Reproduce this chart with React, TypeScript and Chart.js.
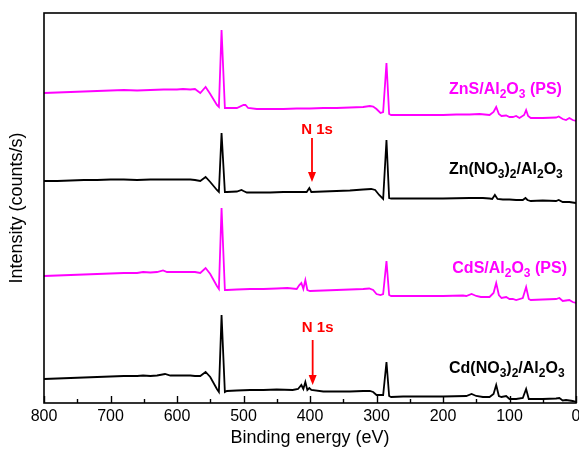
import React, { useEffect, useRef } from 'react';
import { Chart, registerables } from 'chart.js';
Chart.register(...registerables);

const FONT = "'Liberation Sans', Arial, sans-serif";
const MAGENTA = '#ff00ff';

// Binding energy ticks (eV)
const xTickValues = [800, 700, 600, 500, 400, 300, 200, 100, 0];

// ZnS/Al2O3 (PS)
const znsE = [800, 780, 760, 740, 720, 700, 680, 660, 640, 620, 600, 591, 580, 573, 565, 557, 550, 540, 537, 533, 528, 525, 510, 500, 497, 493, 480, 460, 440, 420, 400, 380, 360, 340, 320, 310, 305, 300, 294, 290, 285, 281, 278, 260, 240, 220, 200, 180, 160, 145, 130, 124, 120, 116, 112, 105, 100, 95, 90, 85, 78, 75, 72, 68, 50, 30, 26, 20, 15, 10, 5, 0];
const znsI = [310, 310.5, 311, 311.5, 312, 312.5, 313, 312.5, 313, 313.5, 313.5, 314, 313.5, 314, 310, 316, 309, 298, 296, 373, 295, 295, 295, 298, 298, 295, 294, 294, 294, 294.5, 294.5, 295, 295, 295.5, 296, 297, 296.5, 294, 290, 291, 340, 289, 288, 288, 288, 288, 288, 288.5, 288.5, 289, 288, 291, 296, 289, 287, 287.5, 286, 286, 287, 285, 288, 293, 287, 285, 285, 285.5, 286.5, 284, 283, 285, 283, 282];

// Zn(NO3)2/Al2O3
const znnE = [800, 780, 760, 740, 720, 700, 680, 660, 640, 620, 600, 580, 573, 565, 557, 550, 540, 537, 533, 528, 525, 510, 503, 500, 495, 480, 460, 440, 420, 405, 401, 398, 380, 360, 340, 320, 308, 302, 296, 290, 285, 281, 278, 260, 240, 200, 160, 140, 130, 126, 122, 118, 110, 100, 90, 80, 76, 73, 68, 50, 30, 26, 20, 10, 0];
const znnI = [222, 222, 222.5, 223, 223, 223.5, 223.5, 223, 223.5, 223.5, 223.5, 223.5, 223, 222, 226, 221, 213, 211, 270, 211, 211, 211.5, 213, 212, 210.5, 210.5, 210.5, 211, 211, 211, 215, 211, 211.5, 212, 212.5, 213.5, 214, 213, 208, 204, 263, 205, 204.5, 204.5, 204.5, 204.5, 205, 205, 204.5, 204, 208, 204, 203.5, 203.5, 203, 203, 205, 203, 202, 202.5, 202, 203, 201, 201, 200];

// CdS/Al2O3 (PS)
const cdsE = [800, 780, 760, 740, 720, 700, 680, 660, 651, 640, 630, 621, 615, 600, 580, 573, 565, 557, 550, 540, 537, 533, 528, 525, 510, 490, 470, 450, 434, 420, 416, 413, 410, 407, 404, 400, 380, 360, 340, 320, 311, 305, 300, 294, 290, 285, 281, 278, 260, 240, 200, 170, 165, 157, 150, 143, 130, 124, 120, 116, 112, 105, 100, 95, 90, 80, 75, 71, 68, 50, 30, 25, 20, 15, 10, 5, 0];
const cdsI = [127, 127.5, 128, 128.5, 129, 129.5, 130, 130, 131, 130.5, 131, 132.5, 131, 131, 131, 131, 130, 135, 129, 117, 114, 195, 113, 113, 113.5, 114, 114, 114.5, 115, 114, 118, 120, 114, 123, 113, 112, 112.5, 113, 113.5, 114, 114.5, 113, 109, 108, 109, 142, 108, 107, 107, 107, 107, 107.5, 107, 109, 107, 106, 106, 110, 120, 108, 105, 106, 104, 104, 103, 105, 116, 104, 103, 103.5, 104, 105, 102, 102.5, 103, 101, 100];

// Cd(NO3)2/Al2O3
const cdnE = [800, 780, 760, 740, 720, 700, 680, 660, 651, 640, 630, 618, 610, 600, 580, 573, 565, 557, 550, 540, 537, 533, 528, 525, 510, 490, 470, 450, 426, 418, 413, 410, 407, 404, 401, 398, 380, 360, 340, 320, 310, 305, 300, 294, 290, 285, 281, 278, 260, 240, 200, 165, 157, 150, 140, 130, 124, 120, 116, 112, 105, 100, 95, 90, 80, 75, 71, 68, 50, 30, 25, 20, 15, 10, 5, 0];
const cdnI = [24, 24.5, 25, 25.5, 26, 26.5, 27, 27, 27.5, 27, 27.5, 29, 27.5, 27.5, 27.5, 27, 27, 31, 26, 14, 11, 88, 11, 12, 12.5, 13, 13, 13.5, 13, 14, 18, 14, 21, 13, 15, 13, 11.5, 11.5, 11.5, 12, 12, 11, 8, 8, 8, 41, 7, 6, 6.5, 6.5, 6.5, 7, 9, 7, 6, 6, 9, 18, 7, 6, 7, 4, 4, 4, 5, 14, 4, 4, 4, 4.5, 5, 2.5, 3, 2.5, 2, 1];

// Sample labels: text segments, energy of left edge, intensity of centre
const labelZnS = [{ t: 'ZnS/Al' }, { t: '2', sub: true }, { t: 'O' }, { t: '3', sub: true }, { t: ' (PS)' }];
const labelZnN = [{ t: 'Zn(NO' }, { t: '3', sub: true }, { t: ')' }, { t: '2', sub: true }, { t: '/Al' }, { t: '2', sub: true }, { t: 'O' }, { t: '3', sub: true }];
const labelCdS = [{ t: 'CdS/Al' }, { t: '2', sub: true }, { t: 'O' }, { t: '3', sub: true }, { t: ' (PS)' }];
const labelCdN = [{ t: 'Cd(NO' }, { t: '3', sub: true }, { t: ')' }, { t: '2', sub: true }, { t: '/Al' }, { t: '2', sub: true }, { t: 'O' }, { t: '3', sub: true }];
const labelEnergy = [191, 191, 186, 191];
const labelIntensity = [315, 235, 136, 36];

// N 1s annotations
const n1sEnergy = [397, 396];
const n1sLabelIntensity = [273, 75];
const n1sArrowFrom = [265, 63];
const n1sArrowTo = [221, 18];

const toPts = (e: number[], v: number[]) => e.map((x, i) => ({ x, y: v[i] }));

const decorPlugin = {
  id: 'decor',
  afterDraw(chart: any) {
    const { ctx, chartArea: a, scales } = chart;
    const xs = scales.x;
    const ys = scales.y;
    ctx.save();
    // frame
    ctx.strokeStyle = '#000';
    ctx.lineWidth = 1.6;
    ctx.strokeRect(a.left, a.top, a.right - a.left, a.bottom - a.top);
    // inward ticks
    ctx.lineWidth = 1.4;
    for (let e = 0; e <= 800; e += 50) {
      const px = Math.round(xs.getPixelForValue(e)) + 0.5;
      const len = e % 100 === 0 ? 7 : 4;
      ctx.beginPath();
      ctx.moveTo(px, a.bottom);
      ctx.lineTo(px, a.bottom - len);
      ctx.stroke();
    }
    // labels
    const labels = [labelZnS, labelZnN, labelCdS, labelCdN];
    const colors = [MAGENTA, '#000', MAGENTA, '#000'];
    labels.forEach((segs, i) => {
      let x = xs.getPixelForValue(labelEnergy[i]);
      const y = ys.getPixelForValue(labelIntensity[i]);
      ctx.fillStyle = colors[i];
      ctx.textBaseline = 'alphabetic';
      ctx.textAlign = 'left';
      segs.forEach((s: any) => {
        ctx.font = s.sub ? `bold 12px ${FONT}` : `bold 16px ${FONT}`;
        ctx.fillText(s.t, x, s.sub ? y + 9.5 : y + 6);
        x += ctx.measureText(s.t).width;
      });
    });
    // N 1s
    ctx.fillStyle = '#ff0000';
    ctx.strokeStyle = '#ff0000';
    n1sEnergy.forEach((e, i) => {
      const px = xs.getPixelForValue(e);
      ctx.font = `bold 15px ${FONT}`;
      ctx.textAlign = 'center';
      ctx.textBaseline = 'middle';
      ctx.fillText('N 1s', px + 5, ys.getPixelForValue(n1sLabelIntensity[i]));
      const y1 = ys.getPixelForValue(n1sArrowFrom[i]);
      const y2 = ys.getPixelForValue(n1sArrowTo[i]);
      ctx.lineWidth = 1.8;
      ctx.beginPath();
      ctx.moveTo(px, y1);
      ctx.lineTo(px, y2 - 8);
      ctx.stroke();
      ctx.beginPath();
      ctx.moveTo(px, y2);
      ctx.lineTo(px - 4, y2 - 10);
      ctx.lineTo(px + 4, y2 - 10);
      ctx.closePath();
      ctx.fill();
    });
    ctx.restore();
  },
};

export default function App() {
  const ref = useRef<HTMLCanvasElement>(null);
  useEffect(() => {
    const ds = (e: number[], v: number[], c: string) => ({
      data: toPts(e, v),
      borderColor: c,
      backgroundColor: c,
      borderWidth: 1.8,
      pointRadius: 0,
      tension: 0,
      fill: false,
    });
    const chart = new Chart(ref.current as HTMLCanvasElement, {
      type: 'line',
      data: {
        datasets: [
          ds(znsE, znsI, MAGENTA),
          ds(znnE, znnI, '#000'),
          ds(cdsE, cdsI, MAGENTA),
          ds(cdnE, cdnI, '#000'),
        ],
      },
      options: {
        animation: false,
        responsive: false,
        layout: { padding: { top: 13, right: 3, left: 0, bottom: 0 } },
        plugins: { legend: { display: false }, tooltip: { enabled: false } },
        scales: {
          x: {
            type: 'linear',
            reverse: true,
            min: 0,
            max: 800,
            afterBuildTicks: (s: any) => {
              s.ticks = xTickValues.map((v) => ({ value: v }));
            },
            afterFit: (s: any) => {
              s.height = 47;
              s.paddingLeft = 0;
              s.paddingRight = 0;
            },
            grid: { display: false, drawTicks: false },
            border: { display: false },
            ticks: {
              autoSkip: false,
              maxRotation: 0,
              padding: 4,
              color: '#000',
              font: { family: FONT, size: 16 },
            },
            title: {
              display: true,
              text: 'Binding energy (eV)',
              color: '#000',
              font: { family: FONT, size: 18 },
              padding: { top: 0, bottom: 1 },
            },
          },
          y: {
            min: 0,
            max: 390,
            afterFit: (s: any) => {
              s.width = 44;
            },
            grid: { display: false, drawTicks: false },
            border: { display: false },
            ticks: { display: false },
            title: {
              display: true,
              text: 'Intensity (counts/s)',
              color: '#000',
              font: { family: FONT, size: 18 },
              padding: { top: 6, bottom: 0 },
            },
          },
        },
      },
      plugins: [decorPlugin],
    } as any);
    return () => chart.destroy();
  }, []);
  return (
    <div style={{ position: 'fixed', left: 0, top: 0, width: 579, height: 450, background: '#fff' }}>
      <canvas ref={ref} width={579} height={450} style={{ display: 'block' }} />
    </div>
  );
}
